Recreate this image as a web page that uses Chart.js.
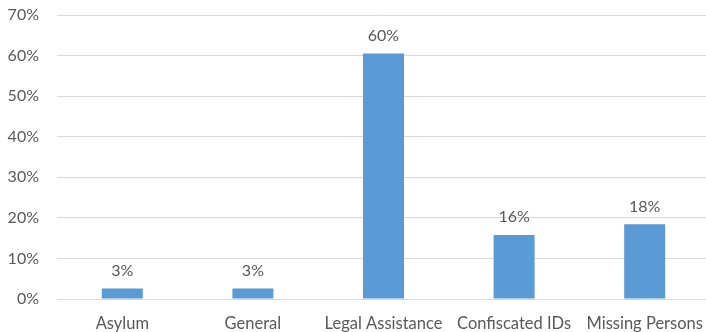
<!DOCTYPE html>
<html>
<head>
<meta charset="utf-8">
<script src="https://cdn.jsdelivr.net/npm/chart.js@4/dist/chart.umd.min.js"></script>
<style>
  html, body { margin: 0; padding: 0; background: #fff; overflow: hidden; }
  #wrap { width: 712px; height: 332px; }
</style>
</head>
<body>
<div id="wrap"><canvas id="chart" width="712" height="332"></canvas></div>
<script>
// valeurs
const categories = ["Asylum", "General", "Legal Assistance", "Confiscated IDs", "Missing Persons"];
const shares = [2.6, 2.6, 60.5, 15.8, 18.4];
const shareLabels = ["3%", "3%", "60%", "16%", "18%"];

const TEXT_COLOR = "#595959";
const FONT = "Lato, 'Liberation Sans', sans-serif";

// étiquettes au-dessus des barres
const barLabels = {
  id: "barLabels",
  afterDatasetsDraw(chart) {
    const ctx = chart.ctx;
    const meta = chart.getDatasetMeta(0);
    ctx.save();
    ctx.fillStyle = TEXT_COLOR;
    ctx.font = "16px " + FONT;
    ctx.textAlign = "center";
    ctx.textBaseline = "middle";
    meta.data.forEach((bar, i) => {
      ctx.fillText(shareLabels[i], bar.x, bar.y - 18);
    });
    ctx.restore();
  }
};

new Chart(document.getElementById("chart"), {
  type: "bar",
  data: {
    labels: categories,
    datasets: [{
      data: shares,
      backgroundColor: "#5b9bd5",
      barPercentage: 0.314,
      categoryPercentage: 1
    }]
  },
  options: {
    responsive: false,
    animation: false,
    layout: { padding: { top: 15, right: 2, left: 0, bottom: 0 } },
    plugins: { legend: { display: false }, tooltip: { enabled: false } },
    scales: {
      y: {
        min: 0,
        max: 70,
        ticks: {
          stepSize: 10,
          padding: 18,
          color: TEXT_COLOR,
          font: { family: FONT, size: 16 },
          callback: v => v + "%"
        },
        grid: { color: "#d9d9d9", lineWidth: 1, drawTicks: false },
        border: { display: false },
        afterFit(scale) {
          scale.width = 57;
          scale.paddingTop = 0;
          scale.paddingBottom = 0;
        }
      },
      x: {
        ticks: {
          padding: 15,
          color: TEXT_COLOR,
          font: { family: FONT, size: 16.5 },
          maxRotation: 0,
          autoSkip: false
        },
        grid: { display: false, drawTicks: false },
        border: { color: "#d9d9d9" },
        afterFit(scale) {
          scale.height = 33;
          scale.paddingLeft = 0;
          scale.paddingRight = 0;
        }
      }
    }
  },
  plugins: [barLabels]
});
</script>
</body>
</html>
